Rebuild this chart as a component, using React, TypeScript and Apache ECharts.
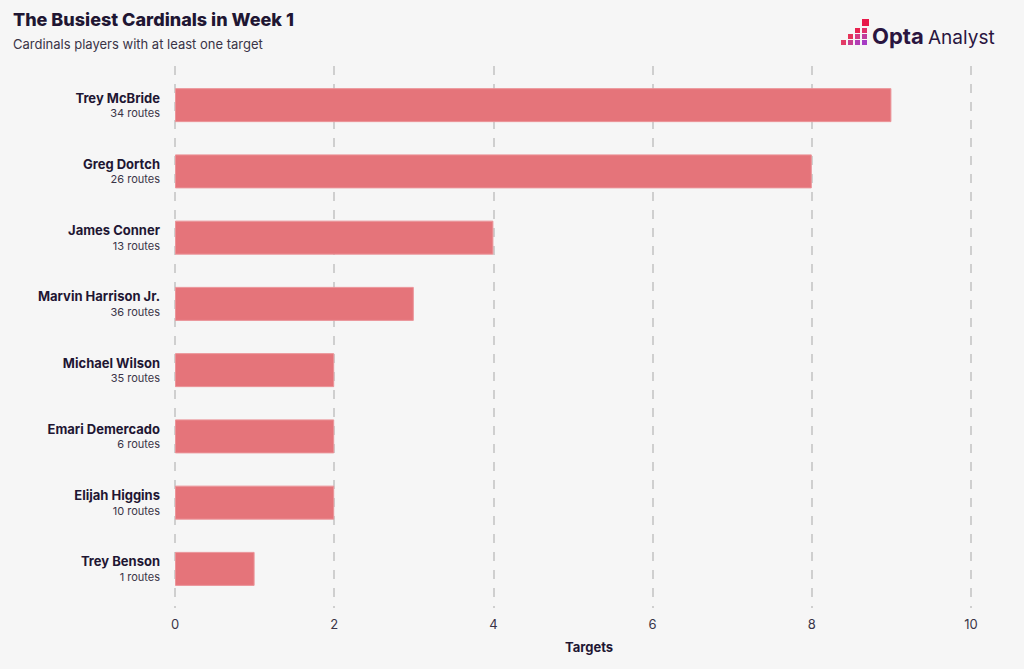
import React, { useEffect, useRef } from "react";
import * as echarts from "echarts";

const players = [
  "Trey McBride",
  "Greg Dortch",
  "James Conner",
  "Marvin Harrison Jr.",
  "Michael Wilson",
  "Emari Demercado",
  "Elijah Higgins",
  "Trey Benson",
];
const routes = [34, 26, 13, 36, 35, 6, 10, 1];
const targets = [9, 8, 4, 3, 2, 2, 2, 1];
const xTicks = [0, 2, 4, 6, 8, 10];

const TITLE = "The Busiest Cardinals in Week 1";
const SUBTITLE = "Cardinals players with at least one target";
const X_NAME = "Targets";

const DARK = "#1f1633";
const FONT = "Inter, 'Noto Sans', sans-serif";

export default function App() {
  const ref = useRef<HTMLDivElement>(null);
  useEffect(() => {
    if (!ref.current) return;
    const chart = echarts.init(ref.current, undefined, { renderer: "svg" });
    const squares: any[] = [];
    const sq = (x: number, y: number, s: number, c: string) =>
      squares.push({ type: "rect", shape: { x, y, width: s, height: s }, style: { fill: c } });
    // logo pixel staircase
    sq(862, 19, 7, "#e8194a");
    sq(855, 28, 5, "#e8234f");
    sq(862, 28, 5, "#e0306a");
    sq(848, 34, 5, "#e63358");
    sq(855, 34, 5, "#d63a80");
    sq(862, 34, 5, "#c03c9c");
    sq(841, 40, 5, "#e23c66");
    sq(848, 40, 5, "#c83f90");
    sq(855, 40, 5, "#b23eb4");
    sq(862, 40, 5, "#a63cc4");

    chart.setOption({
      animation: false,
      backgroundColor: "#f6f6f6",
      textStyle: { fontFamily: FONT },
      title: [
        {
          text: TITLE,
          left: 13,
          top: 10,
          padding: 0,
          textStyle: { fontSize: 18, fontWeight: 800, color: DARK, fontFamily: FONT },
        },
        {
          text: SUBTITLE,
          left: 13,
          top: 37,
          padding: 0,
          textStyle: { fontSize: 13, fontWeight: 400, color: "#3a3447", fontFamily: FONT },
        },
      ],
      grid: [
        { left: 175, right: 53, top: 72, bottom: 67 },
        { left: 175, right: 53, top: 66, bottom: 61 },
      ],
      xAxis: [
        {
          gridIndex: 0,
          type: "value",
          min: 0,
          max: 10,
          interval: 2,
          axisLabel: { show: false },
          splitLine: { show: false },
          axisLine: { show: false },
          axisTick: { show: false },
        },
        {
          gridIndex: 1,
          type: "value",
          min: xTicks[0],
          max: xTicks[xTicks.length - 1],
          interval: 2,
          axisLabel: { show: true, color: "#3a3447", fontSize: 13, margin: 9, fontFamily: FONT },
          splitLine: { show: true, lineStyle: { type: [9, 9], color: "#cfcfcf", width: 2 } },
          axisLine: { show: false },
          axisTick: { show: false },
        },
      ],
      yAxis: [
        {
          gridIndex: 0,
          type: "category",
          inverse: true,
          data: players,
          axisLine: { show: false },
          axisTick: { show: false },
          axisLabel: {
            margin: 15,
            formatter: (v: string, i: number) => `{n|${v}}\n{r|${routes[i]} routes}`,
            rich: {
              n: { fontSize: 13, fontWeight: 700, color: DARK, lineHeight: 16, align: "right", fontFamily: FONT },
              r: { fontSize: 11, color: "#3a3447", lineHeight: 15, align: "right", fontFamily: FONT },
            },
          },
        },
        {
          gridIndex: 1,
          type: "value",
          min: 0,
          max: 1,
          show: false,
        },
      ],
      series: [
        {
          type: "bar",
          xAxisIndex: 0,
          yAxisIndex: 0,
          data: targets,
          barWidth: 34,
          itemStyle: { color: "#e5747a", borderColor: "#eb9499", borderWidth: 1 },
          z: 3,
        },
        {
          type: "scatter",
          xAxisIndex: 1,
          yAxisIndex: 1,
          data: [],
          silent: true,
        },
      ],
      graphic: [
        {
          type: "text",
          x: 589,
          y: 647,
          style: {
            text: X_NAME,
            fontSize: 13,
            fontWeight: 700,
            fill: DARK,
            align: "center",
            verticalAlign: "middle",
            fontFamily: FONT,
          },
        },
        ...squares,
        {
          type: "text",
          x: 872,
          y: 36,
          style: {
            text: "Opta",
            fontSize: 22,
            fontWeight: 700,
            fill: "#2a1540",
            verticalAlign: "middle",
            fontFamily: FONT,
          },
        },
        {
          type: "text",
          x: 928,
          y: 37,
          style: {
            text: "Analyst",
            fontSize: 19,
            fontWeight: 400,
            fill: "#2a1540",
            verticalAlign: "middle",
            fontFamily: FONT,
          },
        },
      ],
    });
    return () => chart.dispose();
  }, []);
  return <div ref={ref} style={{ width: 1024, height: 669, position: "absolute", left: 0, top: 0 }} />;
}
